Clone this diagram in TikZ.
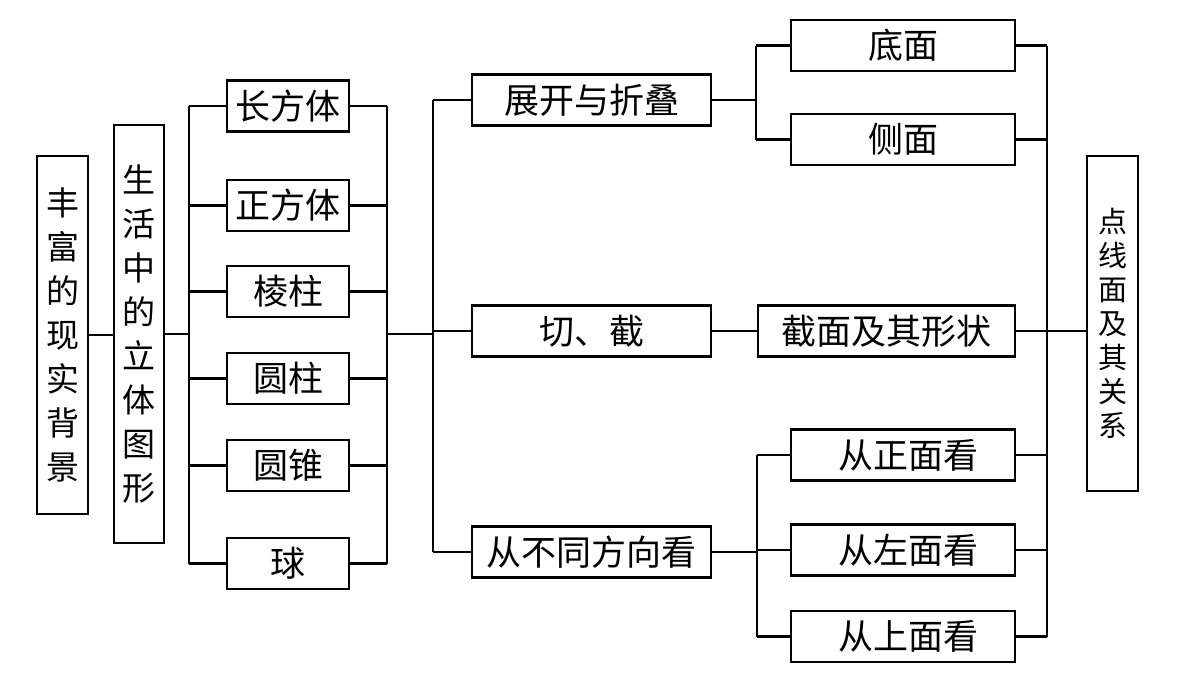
\documentclass[tikz,border=0pt]{standalone}
\usepackage{fontspec}
\newfontfamily\cjk{Noto Sans CJK SC}
\begin{document}
\begin{tikzpicture}[x=1pt,y=-1pt,
  box/.style={draw,line width=2.5pt,inner sep=0pt,outer sep=0pt,font=\cjk\fontsize{35}{40}\selectfont},
  vbox/.style={box,align=center,font=\cjk\fontsize{33}{44}\selectfont},
  sbox/.style={box,align=center,font=\cjk\fontsize{29}{34}\selectfont},
  solidbox/.style={box,minimum width=122pt,minimum height=51pt},
  midbox/.style={box,minimum width=239pt,minimum height=51pt},
  leaf/.style={box,minimum width=224pt,minimum height=51pt},
  link/.style={line width=2.5pt}]
\useasboundingbox[fill=white] (0,0) rectangle (1200,675);
% left column
\node[vbox,minimum width=51pt,minimum height=358pt] (A) at (62.5,335) {丰\\富\\的\\现\\实\\背\\景};
\node[vbox,minimum width=50pt,minimum height=418pt] (B) at (139,334) {生\\活\\中\\的\\立\\体\\图\\形};
% solids
\node[solidbox] (s1) at (288,106) {长方体};
\node[solidbox] (s2) at (288,205.5) {正方体};
\node[solidbox] (s3) at (288,291.5) {棱柱};
\node[solidbox] (s4) at (288,378.5) {圆柱};
\node[solidbox] (s5) at (288,465.5) {圆锥};
\node[solidbox] (s6) at (288,563.5) {球};
% middle
\node[midbox] (m1) at (591.5,100) {展开与折叠};
\node[midbox] (m2) at (591.5,331) {切、截};
\node[midbox] (m3) at (591.5,552) {从不同方向看};
% leaves
\node[leaf] (l1) at (903,45.5) {底面};
\node[leaf] (l2) at (903,139.5) {侧面};
\node[box,minimum width=257pt,minimum height=51pt] (l3) at (886.5,331) {截面及其形状};
\node[leaf] (l4) at (903,455) {\hspace*{10pt}从正面看};
\node[leaf] (l5) at (903,550) {\hspace*{10pt}从左面看};
\node[leaf] (l6) at (903,636.5) {\hspace*{10pt}从上面看};
% right
\node[sbox,minimum width=51pt,minimum height=335pt] (R) at (1112.5,323.5) {点\\线\\面\\及\\其\\关\\系};
% junction coordinates
\coordinate (v1) at (189,0);
\coordinate (v2) at (387,0);
\coordinate (v3) at (433,0);
\coordinate (v4) at (756,0);
\coordinate (v5) at (757,0);
\coordinate (v6) at (1047,0);
% connectors
\draw[link] (A.east) -- (A.east -| B.west);
\draw[link] (B.east) -- (B.east -| v1);
\draw[link] (s1.west -| v1) -- (s6.west -| v1);
\draw[link] (s1.east -| v2) -- (s6.east -| v2);
\foreach \s in {s1,s2,s3,s4,s5,s6}{
  \draw[link] (\s.west -| v1) -- (\s.west);
  \draw[link] (\s.east) -- (\s.east -| v2);
}
\draw[link] (B.east -| v2) -- (B.east -| v3);
\draw[link] (m1.west -| v3) -- (m3.west -| v3);
\foreach \m in {m1,m2,m3}{
  \draw[link] (\m.west -| v3) -- (\m.west);
}
\draw[link] (m1.east) -- (m1.east -| v4);
\draw[link] (l1.west -| v4) -- (l2.west -| v4);
\draw[link] (l1.west -| v4) -- (l1.west);
\draw[link] (l2.west -| v4) -- (l2.west);
\draw[link] (m2.east) -- (l3.west);
\draw[link] (m3.east) -- (m3.east -| v5);
\draw[link] (l4.west -| v5) -- (l6.west -| v5);
\foreach \l in {l4,l5,l6}{
  \draw[link] (\l.west -| v5) -- (\l.west);
}
\draw[link] (l1.east -| v6) -- (l6.east -| v6);
\foreach \l in {l1,l2,l3,l4,l5,l6}{
  \draw[link] (\l.east) -- (\l.east -| v6);
}
\draw[link] (l3.east -| v6) -- (l3.east -| R.west);
\end{tikzpicture}
\end{document}
